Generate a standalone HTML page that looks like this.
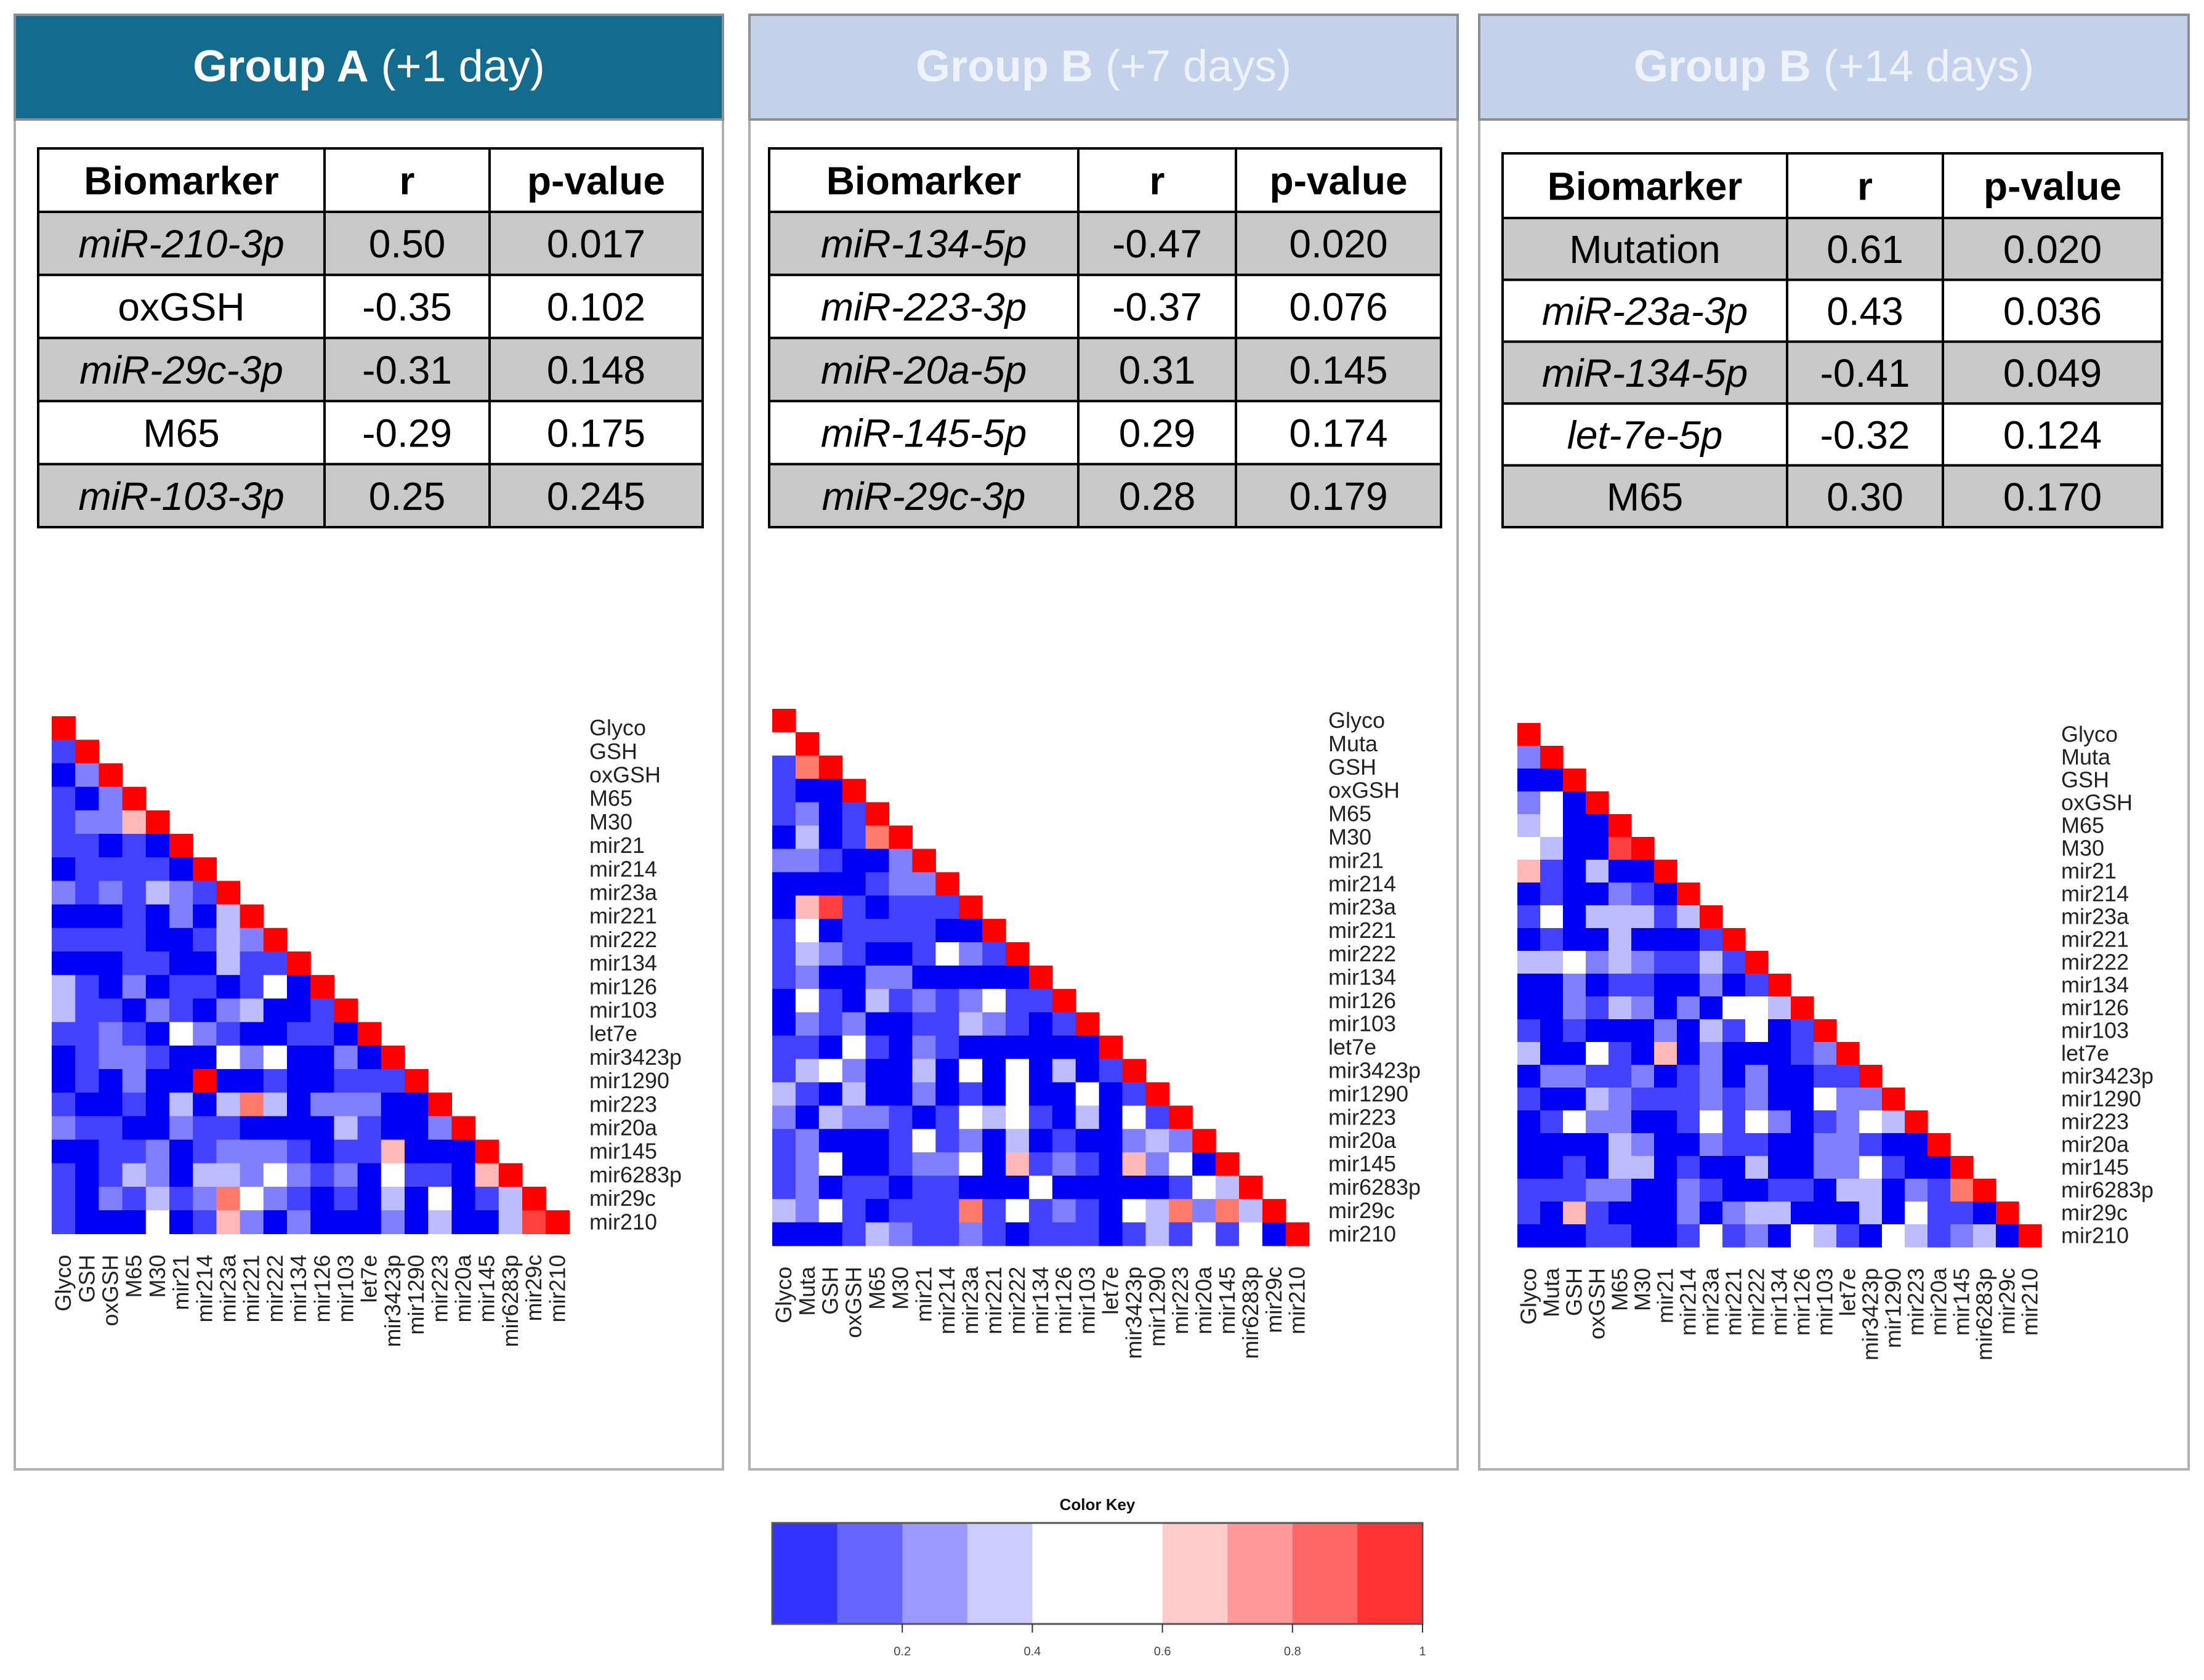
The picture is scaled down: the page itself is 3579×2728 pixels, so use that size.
<!DOCTYPE html>
<html><head><meta charset="utf-8">
<style>
html,body{margin:0;padding:0;background:#fff;}
svg{display:block;}
text{font-family:"Liberation Sans",sans-serif;}
</style></head>
<body>
<svg id="fig" xmlns="http://www.w3.org/2000/svg" width="3579" height="2728" viewBox="0 0 3579 2728">
<rect x="0" y="0" width="3579" height="2728" fill="#fff"/>
</svg>
<script>
const labelsA = ["Glyco","GSH","oxGSH","M65","M30","mir21","mir214","mir23a","mir221","mir222","mir134","mir126","mir103","let7e","mir3423p","mir1290","mir223","mir20a","mir145","mir6283p","mir29c","mir210"];
const labelsBC = ["Glyco","Muta","GSH","oxGSH","M65","M30","mir21","mir214","mir23a","mir221","mir222","mir134","mir126","mir103","let7e","mir3423p","mir1290","mir223","mir20a","mir145","mir6283p","mir29c","mir210"];
// correlation bins 0..8 (0 = strong blue, 4 = white, 8 = red)
const levelsA = [
[8],[1,8],[0,2,8],[1,0,2,8],[1,2,2,5,8],[1,1,0,1,0,8],[0,1,1,1,1,0,8],
[2,1,2,1,3,2,1,8],[0,0,0,1,0,2,0,3,8],[1,1,1,1,0,0,1,3,2,8],[0,0,0,1,1,0,0,3,1,1,8],
[3,1,0,2,0,1,1,0,1,4,0,8],[3,1,1,0,2,1,0,2,3,0,0,1,8],[1,1,2,1,0,4,2,1,0,0,1,1,0,8],
[0,1,2,2,1,0,0,4,2,4,0,0,2,0,8],[0,1,0,2,0,0,8,0,0,1,0,0,1,1,1,8],
[1,0,0,1,0,3,0,3,6,3,0,2,2,2,0,0,8],[2,1,1,0,0,2,1,1,0,0,0,0,3,1,0,0,2,8],
[0,0,1,1,2,0,1,2,2,2,1,0,1,1,5,0,0,0,8],[1,0,1,3,2,0,3,3,2,4,2,1,2,0,4,1,1,0,5,8],
[1,0,2,1,3,1,2,6,4,2,1,0,1,0,3,0,4,0,1,3,8],[1,0,0,0,4,0,1,5,2,0,2,0,0,0,2,0,3,0,0,3,7,8]];
const levelsB = [
[8],[4,8],[1,6,8],[1,0,0,8],[1,2,0,1,8],[0,3,0,1,6,8],[2,2,1,0,0,2,8],[0,0,0,0,1,2,2,8],
[0,5,7,1,0,1,1,1,8],[1,4,0,1,1,1,1,0,0,8],[1,3,2,1,0,0,1,4,2,1,8],[1,2,0,0,2,2,0,0,0,0,0,8],
[0,4,1,0,3,1,2,1,2,4,1,1,8],[0,2,1,2,0,0,1,1,3,2,1,0,1,8],[1,1,0,4,1,0,2,1,0,0,0,0,0,0,8],
[1,3,4,2,0,0,3,0,4,0,4,0,3,0,1,8],[3,1,0,3,0,0,2,0,1,0,4,0,0,4,0,1,8],
[2,0,3,2,2,1,0,1,4,3,4,1,0,3,0,4,1,8],[1,2,0,0,0,1,4,1,2,0,3,0,1,0,0,2,3,2,8],
[1,2,4,0,0,1,2,2,4,0,5,1,2,1,0,5,2,4,0,8],[1,2,0,1,1,0,1,1,0,0,0,4,0,0,0,0,0,1,4,3,8],
[3,2,4,1,0,1,1,1,6,1,4,1,2,1,0,4,3,6,2,6,3,8],[0,0,0,1,3,2,1,1,2,1,0,1,1,1,0,1,3,1,4,1,4,0,8]];
const levelsC = [
[8],[2,8],[0,0,8],[2,4,0,8],[3,4,0,0,8],[4,3,0,0,7,8],[5,1,0,3,0,0,8],[0,1,0,0,2,1,0,8],
[1,4,0,3,3,3,1,3,8],[0,1,0,0,3,0,0,0,1,8],[3,3,4,2,3,2,1,1,3,1,8],[0,0,2,0,1,1,0,0,2,0,1,8],
[0,0,2,1,3,2,0,2,0,4,4,3,8],[1,0,1,0,0,0,2,0,3,1,4,0,1,8],[3,0,0,4,1,0,5,0,2,0,0,0,1,2,8],
[0,2,2,1,1,2,0,1,2,0,2,0,0,1,1,8],[1,0,0,3,2,1,1,1,2,1,2,0,0,4,2,2,8],
[0,1,4,2,2,0,0,1,4,1,4,2,0,1,2,4,3,8],[0,0,0,0,3,2,0,0,2,1,1,0,0,2,2,1,0,0,8],
[0,0,1,0,3,3,0,1,0,0,3,0,0,2,2,4,1,0,0,8],[1,1,1,2,2,0,0,2,1,0,0,1,1,0,3,3,0,2,1,6,8],
[1,0,5,1,0,0,0,2,0,2,3,3,0,0,0,3,0,4,1,1,0,8],[0,0,0,1,1,0,0,1,4,1,2,0,4,3,1,0,4,3,1,2,3,0,8]];
const tableMarkersA = ["miR-210-3p","oxGSH","miR-29c-3p","M65","miR-103-3p"];
const tableRA = ["0.50","-0.35","-0.31","-0.29","0.25"];
const tablePA = ["0.017","0.102","0.148","0.175","0.245"];
const tableMarkersB = ["miR-134-5p","miR-223-3p","miR-20a-5p","miR-145-5p","miR-29c-3p"];
const tableRB = ["-0.47","-0.37","0.31","0.29","0.28"];
const tablePB = ["0.020","0.076","0.145","0.174","0.179"];
const tableMarkersC = ["Mutation","miR-23a-3p","miR-134-5p","let-7e-5p","M65"];
const tableRC = ["0.61","0.43","-0.41","-0.32","0.30"];
const tablePC = ["0.020","0.036","0.049","0.124","0.170"];
const keyTicks = [0.2,0.4,0.6,0.8,1];
const keyBins = [0,0.1,0.2,0.3,0.4,0.5,0.6,0.7,0.8,0.9];

const NS="http://www.w3.org/2000/svg";
const svg=document.getElementById('fig');
const palette=["#0000f4","#4242ff","#8080ff","#bcbcff","#ffffff","#ffb8b8","#ff7a6a","#ff4040","#ff0000"];
const keyColors=["#3333ff","#6666ff","#9999ff","#ccccff","#ffffff","#ffffff","#ffcccc","#ff9999","#ff6666","#ff3333"];
function mk(tag,attrs,parent){const e=document.createElementNS(NS,tag);for(const k in attrs)e.setAttribute(k,attrs[k]);(parent||svg).appendChild(e);return e;}

function panel(x,w,title1,title2,dark,id){
  const g=mk('g',{});
  
  
  const r=mk('rect',{x:x,y:24,width:w,height:2362,fill:'#fff',stroke:'#b0b0b0','stroke-width':4},g);
  
  
  const h=mk('rect',{x:x,y:24,width:w,height:170,fill:dark?'#136b8e':'#c3d1ea',stroke:'#8a8f96','stroke-width':4},g);
  
  
  const t=mk('text',{x:x+w/2,y:132,'text-anchor':'middle','font-size':72,fill:dark?'#ffffff':'#eef2fa'},g);
  
  
  const b=mk('tspan',{'font-weight':'bold'},t);b.textContent=title1;
  const n=mk('tspan',{},t);n.textContent=title2;
}
panel(24,1150,"Group A"," (+1 day)",true,'panel-group-a');
panel(1217,1150,"Group B"," (+7 days)",false,'panel-group-b-7');
panel(2402,1152,"Group B"," (+14 days)",false,'panel-group-b-14');

function table(cols,y0,y1,headH,markers,rs,ps,id){
  const g=mk('g',{});
  
  
  const rowH=(y1-y0-headH)/5;
  for(let i=0;i<5;i++){
    const ry=y0+headH+i*rowH;
    const bg=mk('rect',{x:cols[0],y:ry,width:cols[3]-cols[0],height:rowH,fill:i%2===0?'#c8c8c8':'#ffffff'},g);
    
    
    mk('line',{x1:cols[0],x2:cols[3],y1:ry,y2:ry,stroke:'#000','stroke-width':4},g);
  }
  mk('rect',{x:cols[0],y:y0,width:cols[3]-cols[0],height:y1-y0,fill:'none',stroke:'#000','stroke-width':4},g);
  mk('line',{x1:cols[1],x2:cols[1],y1:y0,y2:y1,stroke:'#000','stroke-width':4},g);
  mk('line',{x1:cols[2],x2:cols[2],y1:y0,y2:y1,stroke:'#000','stroke-width':4},g);
  const heads=["Biomarker","r","p-value"];
  for(let c=0;c<3;c++){
    const t=mk('text',{x:(cols[c]+cols[c+1])/2,y:y0+headH/2+23,'text-anchor':'middle','font-size':64,'font-weight':'bold',fill:'#000'},g);
    
    
    t.textContent=heads[c];
  }
  for(let i=0;i<5;i++){
    const cy=y0+headH+i*rowH+rowH/2+23;
    const vals=[markers[i],rs[i],ps[i]];
    for(let c=0;c<3;c++){
      const it=(c===0&&/^(miR|let)/.test(vals[c]));
      const t=mk('text',{x:(cols[c]+cols[c+1])/2,y:cy,'text-anchor':'middle','font-size':64,fill:'#000','font-style':it?'italic':'normal'},g);
      
      
      t.textContent=vals[c];
    }
  }
}
table([62,527,795,1141],241,856,103,tableMarkersA,tableRA,tablePA,'table-group-a');
table([1249,1751,2007,2340],241,856,103,tableMarkersB,tableRB,tablePB,'table-group-b-7');
table([2440,2902,3155,3511],249,856,105,tableMarkersC,tableRC,tablePC,'table-group-b-14');

function heatmap(x0,y0,cell,labels,levels,lx,id){
  const g=mk('g',{});
  
  
  const n=labels.length;
  const xs=j=>x0+j*cell, ys=i=>y0+i*cell;
  for(let i=0;i<levels.length;i++){
    for(let j=0;j<levels[i].length;j++){
      const c=mk('rect',{x:xs(j),y:ys(i),width:cell+0.6,height:cell+0.6,fill:palette[levels[i][j]]},g);
      
      
    }
  }
  for(let i=0;i<n;i++){
    const t=mk('text',{x:lx,y:ys(i)+cell/2+12,'font-size':36,fill:'#222'},g);
    
    
    t.textContent=labels[i];
    const cx=xs(i)+cell/2+12, cy=ys(n)+34;
    const c=mk('text',{x:cx,y:cy,'font-size':36,fill:'#222','text-anchor':'end',transform:'rotate(-90 '+cx+' '+cy+')'},g);
    
    
    c.textContent=labels[i];
  }
}
heatmap(84,1163,38.2,labelsA,levelsA,957,'heatmap-group-a');
heatmap(1254,1151,37.9,labelsBC,levelsB,2157,'heatmap-group-b-7');
heatmap(2464,1174,37.0,labelsBC,levelsC,3347,'heatmap-group-b-14');

// color key
const kx0=1254,kx1=2310,ky0=2473,ky1=2637;
const kxs=v=>kx0+v*(kx1-kx0);
const kg=mk('g',{});


for(let i=0;i<keyBins.length;i++){
  const r=mk('rect',{x:kxs(keyBins[i]),y:ky0,width:kxs(0.1)-kx0+0.5,height:ky1-ky0,fill:keyColors[i]},kg);
  
  
}
mk('rect',{x:kx0,y:ky0,width:kx1-kx0,height:ky1-ky0,fill:'none',stroke:'#555','stroke-width':3},kg);
const kt=mk('text',{x:(kx0+kx1)/2,y:2452,'text-anchor':'middle','font-size':26,'font-weight':'bold',fill:'#111'},kg);


kt.textContent='Color Key';
for(const v of keyTicks){
  mk('line',{x1:kxs(v),x2:kxs(v),y1:ky1,y2:ky1+14,stroke:'#333','stroke-width':2},kg);
  const t=mk('text',{x:kxs(v),y:2688,'text-anchor':'middle','font-size':20,fill:'#444'},kg);
  
  
  t.textContent=String(v);
}
</script>
</body></html>
